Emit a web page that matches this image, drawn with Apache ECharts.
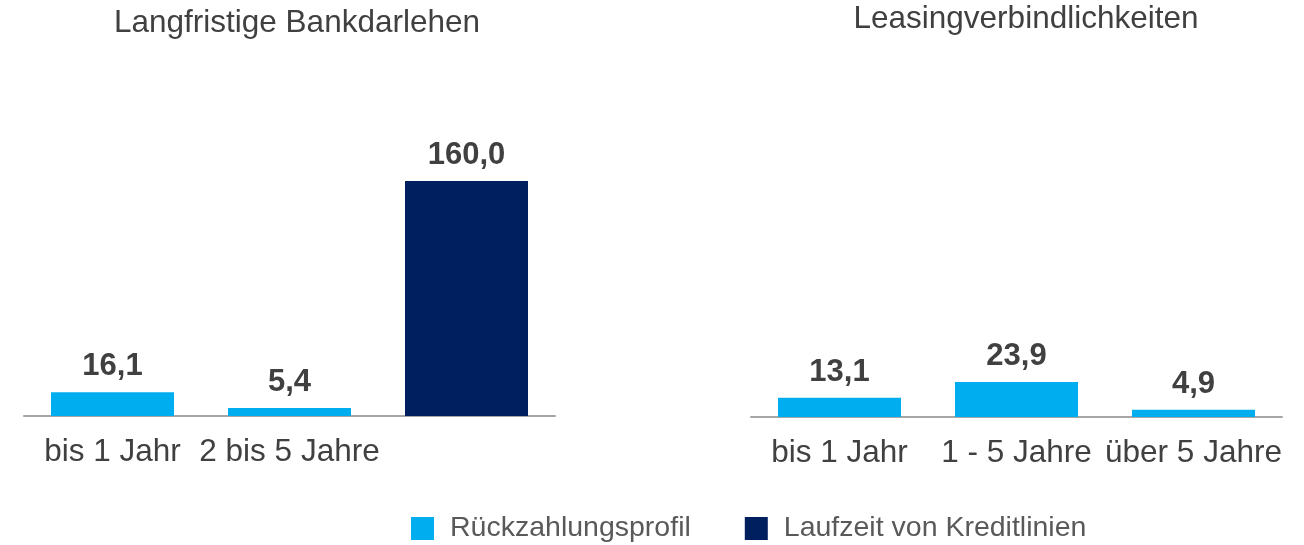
<!DOCTYPE html>
<html lang="de">
<head>
<meta charset="UTF-8">
<title>Finanzverbindlichkeiten</title>
<script src="https://cdn.jsdelivr.net/npm/echarts@6/dist/echarts.min.js"></script>
<style>
  html, body { margin: 0; padding: 0; background: #fff; }
  #chart { width: 1304px; height: 545px; }
</style>
</head>
<body>
<div id="chart"></div>
<script>
// Daten
var titles = ['Langfristige Bankdarlehen', 'Leasingverbindlichkeiten'];
var seriesNames = ['Rückzahlungsprofil', 'Laufzeit von Kreditlinien'];
var bankCategories = ['bis 1 Jahr', '2 bis 5 Jahre', ''];
var bankRepayment = [16.1, 5.4, '-'];
var bankCreditLines = ['-', '-', 160.0];
var leaseCategories = ['bis 1 Jahr', '1 - 5 Jahre', 'über 5 Jahre'];
var leaseRepayment = [13.1, 23.9, 4.9];

var lightBlue = '#00AEEF';
var navy = '#001F5F';
var textColor = '#404040';
var font = "'Liberation Sans', Arial, sans-serif";

function fmt(p) {
  return p.value.toFixed(1).replace('.', ',');
}

var valueLabel = {
  show: true,
  position: 'top',
  distance: 10,
  formatter: fmt,
  color: textColor,
  fontFamily: font,
  fontSize: 31,
  fontWeight: 'bold'
};

function catAxis(idx, data) {
  return {
    type: 'category',
    gridIndex: idx,
    data: data,
    axisLine: { show: true, lineStyle: { color: '#A6A6A6', width: 2 } },
    axisTick: { show: false },
    axisLabel: { color: textColor, fontFamily: font, fontSize: 31.5, margin: 20, interval: 0 }
  };
}

function valAxis(idx) {
  return { type: 'value', gridIndex: idx, min: 0, max: 160, show: false, splitLine: { show: false } };
}

var titleStyle = { color: textColor, fontFamily: font, fontSize: 31.5, fontWeight: 'normal' };

var chart = echarts.init(document.getElementById('chart'));
chart.setOption({
  animation: false,
  textStyle: { fontFamily: font },
  title: [
    { text: titles[0], left: 292, top: 2, textAlign: 'center', textStyle: titleStyle },
    { text: titles[1], left: 1021, top: -2, textAlign: 'center', textStyle: titleStyle }
  ],
  legend: {
    data: seriesNames,
    left: 406,
    top: 509,
    itemWidth: 23,
    itemHeight: 23,
    itemGap: 54,
    icon: 'rect',
    textStyle: { color: '#595959', fontFamily: font, fontSize: 28.5, padding: [0, 0, 0, 11] }
  },
  grid: [
    { left: 24, width: 531, top: 181, bottom: 129 },
    { left: 751, width: 531, top: 182, bottom: 128 }
  ],
  xAxis: [catAxis(0, bankCategories), catAxis(1, leaseCategories)],
  yAxis: [valAxis(0), valAxis(1)],
  series: [
    { name: seriesNames[0], type: 'bar', xAxisIndex: 0, yAxisIndex: 0, stack: 'bank',
      data: bankRepayment, barWidth: 123, itemStyle: { color: lightBlue }, label: valueLabel },
    { name: seriesNames[1], type: 'bar', xAxisIndex: 0, yAxisIndex: 0, stack: 'bank',
      data: bankCreditLines, barWidth: 123, itemStyle: { color: navy }, label: valueLabel },
    { name: seriesNames[0], type: 'bar', xAxisIndex: 1, yAxisIndex: 1,
      data: leaseRepayment, barWidth: 123, itemStyle: { color: lightBlue }, label: valueLabel }
  ]
});
</script>
</body>
</html>
